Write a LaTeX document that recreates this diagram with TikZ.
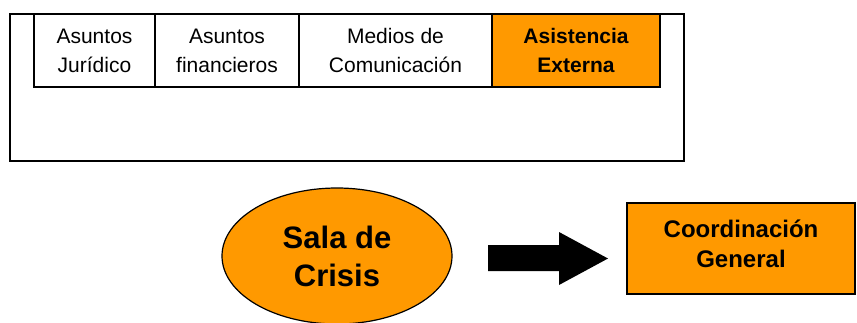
\documentclass[tikz,border=0pt]{standalone}
\usepackage{fontspec}
\setmainfont{Liberation Sans}
\usepackage{tikz}
\usetikzlibrary{shapes.geometric}
\definecolor{laranja}{HTML}{FF9900}
\tikzset{
  caixa/.style={draw, line width=1.5pt, inner sep=0pt, align=center,
    minimum height=73pt, font=\fontsize{21}{29}\selectfont},
  destaque/.style={caixa, fill=laranja, font=\fontsize{21}{29}\selectfont\bfseries}
}

\begin{document}
\begin{tikzpicture}[x=1pt,y=-1pt]
\useasboundingbox (0,0) rectangle (857,322);

% Quadro superior
\draw[line width=1.5pt] (10,14) rectangle (684,161);
\node[caixa, minimum width=121pt] (juridico) at (94.5,50.5) {Asuntos\\Jurídico};
\node[caixa, minimum width=144pt] (financeiro) at (227,50.5) {Asuntos\\financieros};
\node[caixa, minimum width=193pt] (medios) at (395.5,50.5) {Medios de\\Comunicación};
\node[destaque, minimum width=168pt] (asistencia) at (576,50.5) {Asistencia\\Externa};

% Sala de crisis
\node[ellipse, draw, line width=1.2pt, fill=laranja, inner sep=0pt,
  minimum width=230pt, minimum height=136pt, align=center,
  font=\fontsize{31}{38}\selectfont\bfseries] (sala) at (337,256) {Sala de\\Crisis};

% Seta
\fill (488,245) -- (559,245) -- (559,232) -- (608,258.5)
  -- (559,285) -- (559,271) -- (488,271) -- cycle;

% Coordinacion
\node[draw, line width=1.5pt, fill=laranja, inner sep=0pt, align=center,
  minimum width=228pt, minimum height=91pt, text depth=10pt,
  font=\fontsize{24}{30}\selectfont\bfseries] (coord) at (741,248.5) {Coordinación\\General};
\end{tikzpicture}
\end{document}
